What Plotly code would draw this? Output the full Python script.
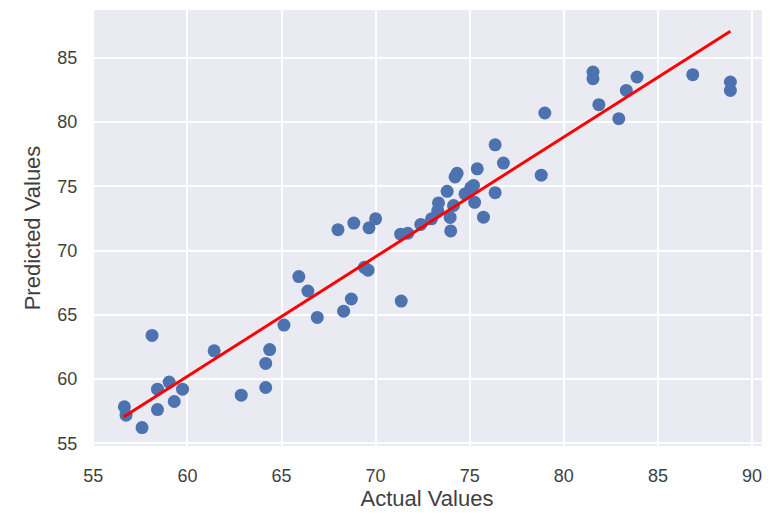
import plotly.graph_objects as go

# actual vs predicted
actual = [56.65, 56.74, 57.59, 58.12, 58.41, 58.41, 59.03, 59.3, 59.74, 61.42,
          62.86, 64.16, 64.16, 64.37, 65.13, 65.92, 66.4, 66.9, 68.3, 68.71,
          68.0, 68.84, 69.65, 70.0, 69.4, 69.6, 71.36, 71.33, 71.71, 72.4,
          72.97, 73.34, 73.3, 73.8, 73.96, 73.99, 74.14, 74.22, 74.33, 74.75,
          75.05, 75.2, 75.26, 75.4, 75.73, 76.35, 76.35, 76.79, 78.8, 78.99,
          81.55, 81.55, 81.86, 82.92, 83.32, 83.89, 86.85, 88.85, 88.85]
predicted = [57.85, 57.2, 56.23, 63.4, 59.22, 57.63, 59.77, 58.26, 59.22, 62.2,
             58.75, 59.35, 61.22, 62.3, 64.2, 67.97, 66.85, 64.8, 65.28, 66.23,
             71.62, 72.13, 71.76, 72.46, 68.69, 68.47, 66.07, 71.27, 71.34, 72.03,
             72.46, 73.7, 73.1, 74.6, 72.57, 71.52, 73.5, 75.72, 76.0, 74.4,
             74.88, 75.06, 73.75, 76.35, 72.59, 74.5, 78.22, 76.8, 75.86, 80.69,
             83.88, 83.36, 81.34, 80.25, 82.45, 83.49, 83.67, 83.1, 82.45]

# fitted line end points
line_x = [56.6, 88.85]
line_y = [57.05, 87.05]

x_ticks = [55, 60, 65, 70, 75, 80, 85, 90]
y_ticks = [55, 60, 65, 70, 75, 80, 85]

fig = go.Figure()
fig.add_trace(go.Scatter(x=actual, y=predicted, mode='markers',
                         marker=dict(color='#4C72B0', size=13)))
fig.add_trace(go.Scatter(x=line_x, y=line_y, mode='lines',
                         line=dict(color='red', width=3)))

# page body adds 8px, margins account for it
fig.update_layout(
    width=778, height=522,
    margin=dict(l=84, r=24, t=2, b=84),
    paper_bgcolor='white', plot_bgcolor='#EAEAF2',
    showlegend=False,
    font=dict(family='Liberation Sans, Arial, sans-serif', size=18, color='#3f3f3f'),
)
fig.update_xaxes(range=[54.93, 90.53], tickvals=x_ticks, showgrid=True, automargin=False,
                 gridcolor='white', gridwidth=1.5, zeroline=False, showline=False,
                 ticks='outside', ticklen=13, tickcolor='rgba(0,0,0,0)',
                 title=dict(text='Actual Values', font=dict(size=22), standoff=4))
fig.update_yaxes(range=[54.8, 88.7], tickvals=y_ticks, showgrid=True, automargin=False,
                 gridcolor='white', gridwidth=1.5, zeroline=False, showline=False,
                 ticks='outside', ticklen=10, tickcolor='rgba(0,0,0,0)',
                 title=dict(text='Predicted Values', font=dict(size=22), standoff=10))

fig.write_html("out.html")
